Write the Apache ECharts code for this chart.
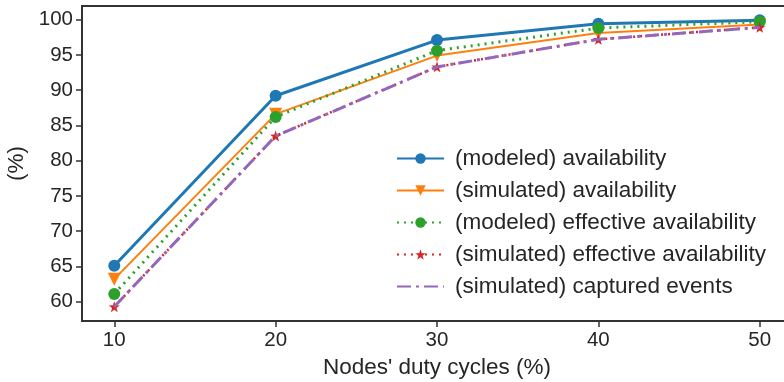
<!DOCTYPE html>
<html><head><meta charset="utf-8">
<script src="https://cdn.jsdelivr.net/npm/echarts@6/dist/echarts.min.js"></script>
<style>html,body{margin:0;padding:0;background:#fff}#c{width:784px;height:382px}</style>
</head><body><div id="c"></div>
<script>
const dutyCycles = [10, 20, 30, 40, 50];
const modeledAvailability = [65.1, 89.2, 97.1, 99.4, 99.9];
const simulatedAvailability = [63.2, 86.6, 94.9, 98.1, 99.3];
const modeledEffective = [61.1, 86.2, 95.6, 98.8, 99.7];
const simulatedEffective = [59.3, 83.5, 93.3, 97.2, 98.9];
const capturedEvents = [59.3, 83.5, 93.3, 97.2, 98.9];
const xTicks = [10, 20, 30, 40, 50];
const yTicks = [60, 65, 70, 75, 80, 85, 90, 95, 100];

const font = 'Liberation Sans, Arial, sans-serif';
const ink = '#262626';
function pts(arr){ return dutyCycles.map((x,i)=>[x, arr[i]]); }

const chart = echarts.init(document.getElementById('c'), null, {renderer:'canvas'});
chart.setOption({
  animation:false,
  grid:{left:82, top:6, right:-8, bottom:61, containLabel:false, outerBoundsMode:'none',
        show:true, borderColor:'#333', borderWidth:2, backgroundColor:'transparent'},
  legend:{
    orient:'vertical', left:391, top:142, itemWidth:47, itemHeight:13, itemGap:9,
    textStyle:{fontFamily:font, fontSize:22.5, color:ink, padding:[0,0,0,6]},
    data:['(modeled) availability','(simulated) availability','(modeled) effective availability','(simulated) effective availability',
      {name:'(simulated) captured events', itemStyle:{opacity:0}}]
  },
  xAxis:{
    type:'value', min:8, max:52,
    name:"Nodes' duty cycles (%)", nameLocation:'middle', nameGap:34,
    nameTextStyle:{fontFamily:font, fontSize:22.5, color:ink},
    axisLine:{show:true, lineStyle:{color:'#333', width:2}},
    axisTick:{show:true, length:6, lineStyle:{color:'#333', width:1.5}, customValues:xTicks},
    axisLabel:{fontFamily:font, fontSize:20.5, color:ink, margin:9, customValues:xTicks},
    splitLine:{show:false}
  },
  yAxis:{
    type:'value', min:57.27, max:101.93,
    name:'(%)', nameLocation:'middle', nameGap:52, nameRotate:90,
    nameTextStyle:{fontFamily:font, fontSize:22.5, color:ink},
    axisLine:{show:true, lineStyle:{color:'#333', width:2}},
    axisTick:{show:true, length:6, lineStyle:{color:'#333', width:1.5}, customValues:yTicks},
    axisLabel:{fontFamily:font, fontSize:20.5, color:ink, margin:9, customValues:yTicks},
    splitLine:{show:false}
  },
  series:[
    {name:'(modeled) availability', type:'line', data:pts(modeledAvailability), z:2,
     symbol:'circle', symbolSize:12, lineStyle:{color:'#1f77b4', width:3}, itemStyle:{color:'#1f77b4'}},
    {name:'(simulated) availability', type:'line', data:pts(simulatedAvailability), z:3,
     symbol:'triangle', symbolRotate:180, symbolSize:13, lineStyle:{color:'#ff7f0e', width:2}, itemStyle:{color:'#ff7f0e'}},
    {name:'(modeled) effective availability', type:'line', data:pts(modeledEffective), z:4,
     symbol:'circle', symbolSize:12, lineStyle:{color:'#2ca02c', width:3, type:[2,5]}, itemStyle:{color:'#2ca02c'}},
    {name:'(simulated) effective availability', type:'line', data:pts(simulatedEffective), z:5,
     symbol:'path://M0,-10L2.35,-3.24L9.51,-3.09L3.8,1.24L5.88,8.09L0,4L-5.88,8.09L-3.8,1.24L-9.51,-3.09L-2.35,-3.24Z', symbolSize:11,
     lineStyle:{color:'#d62728', width:2.5, type:[2,5]}, itemStyle:{color:'#d62728'}},
    {name:'(simulated) captured events', type:'line', data:pts(capturedEvents), z:6,
     symbol:'none', lineStyle:{color:'#9467bd', width:3, type:[14,5,3,5]}, itemStyle:{color:'#9467bd'}}
  ]
});
</script></body></html>
